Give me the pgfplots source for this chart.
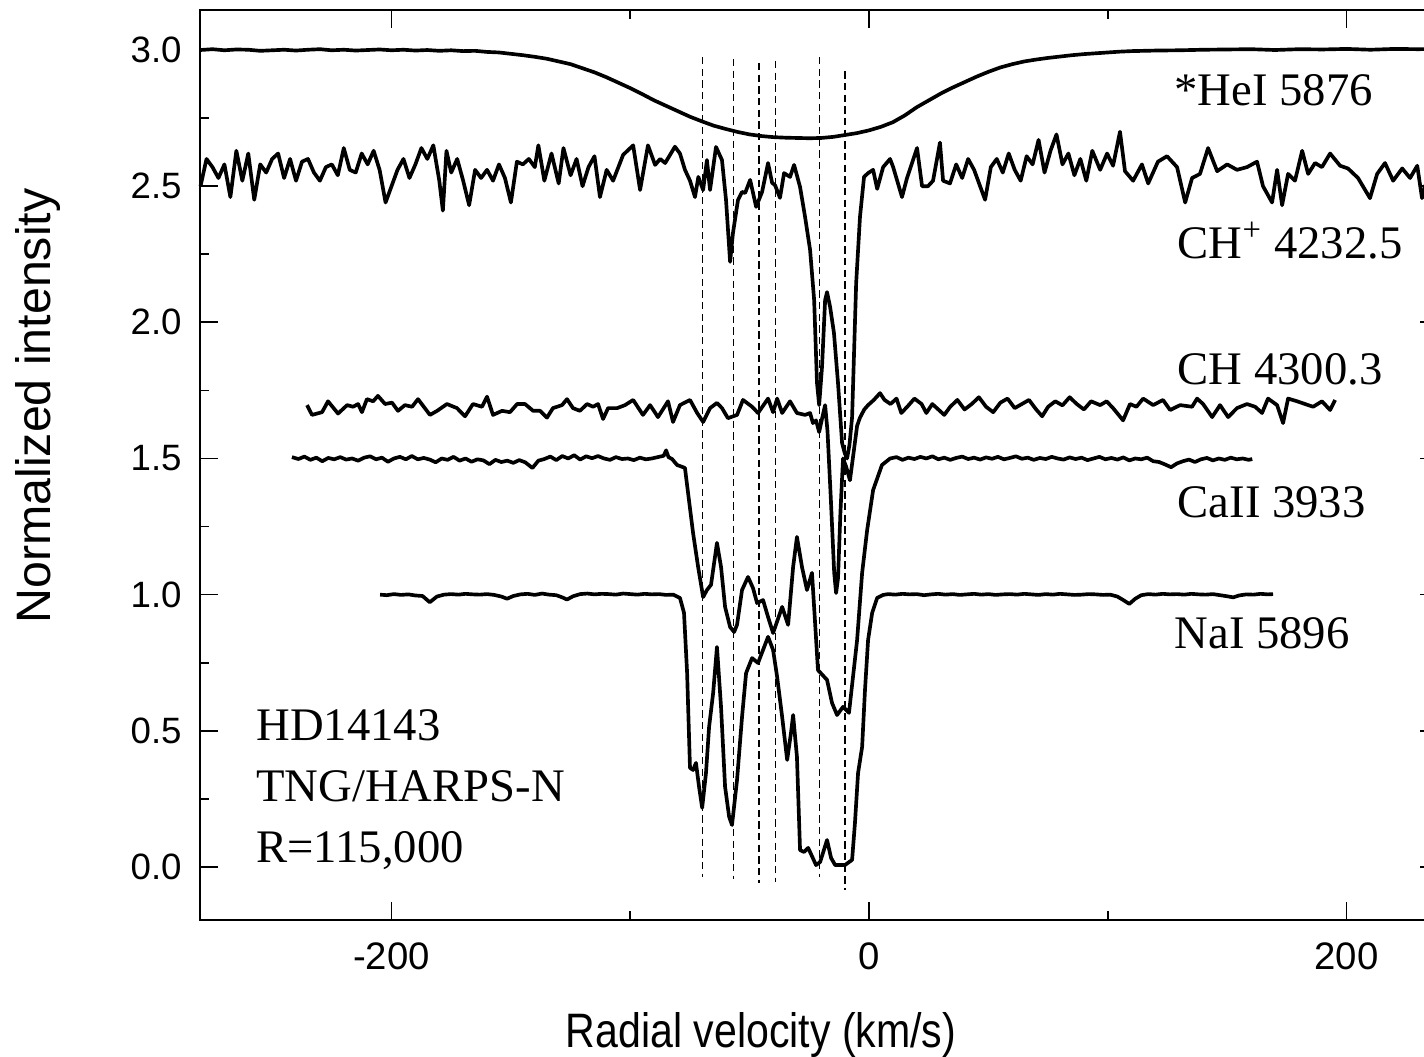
\documentclass[border=0pt]{standalone}
\usepackage{fontspec}
\setmainfont{Liberation Serif}
\setsansfont{Liberation Sans}
\usepackage{pgfplots}
\pgfplotsset{compat=1.18}
\begin{document}
\begin{tikzpicture}
\begin{axis}[
  scale only axis, width=371.4pt, height=273pt,
  xmin=-280.2, xmax=238.3, ymin=-0.1946, ymax=3.147,
  xtick={-200,0,200}, minor xtick={-100,100},
  ytick={0,0.5,1,1.5,2,2.5,3}, minor ytick={0.25,0.75,1.25,1.75,2.25,2.75},
  tick align=inside, major tick length=5.4pt, minor tick length=2.7pt,
  axis line style={line width=0.7pt},
  every tick/.style={black, line width=0.5pt},
  tick label style={font=\sffamily\fontsize{11}{13}\selectfont},
  xticklabel style={font=\sffamily\fontsize{11.5}{13}\selectfont, yshift=-3.4pt},
  yticklabel style={xshift=-2pt},
  /pgf/number format/assume math mode=true,
  yticklabel={\pgfmathprintnumber[fixed,fixed zerofill,precision=1]{\tick}},
  xticklabel={\pgfmathprintnumber[fixed]{\tick}},
  clip=false,
  spec/.style={black, solid, no markers, line width=1.1pt, line join=round},
  vline/.style={black, no markers, line width=0.45pt, dash pattern=on 2.2pt off 1.3pt},
]
% HeI 5876
\addplot[spec] coordinates {(-280,3.000) (-275,3.003) (-270,2.999) (-265,3.002) (-260,3.001) (-255,2.997) (-250,2.999) (-245,3.001) (-240,2.998) (-235,3.001) (-230,3.003) (-225,2.999) (-220,3.001) (-215,2.998) (-210,3.000) (-205,3.002) (-200,2.999) (-195,3.001) (-190,2.998) (-185,3.000) (-180,2.997) (-175,2.999) (-170,2.996) (-165,2.997) (-160,2.993) (-155,2.991) (-150,2.986) (-145,2.981) (-140,2.975) (-135,2.968) (-130,2.958) (-125,2.948) (-120,2.933) (-115,2.918) (-110,2.900) (-105,2.880) (-100,2.860) (-95,2.838) (-90,2.815) (-85,2.795) (-80,2.775) (-75,2.755) (-70,2.738) (-65,2.722) (-60,2.710) (-55,2.699) (-50,2.690) (-45,2.684) (-40,2.680) (-35,2.678) (-30,2.677) (-25,2.676) (-20,2.677) (-15,2.681) (-10,2.688) (-5,2.695) (0,2.705) (5,2.718) (10,2.735) (15,2.760) (20,2.790) (25,2.815) (30,2.840) (35,2.862) (40,2.882) (45,2.902) (50,2.920) (55,2.936) (60,2.948) (65,2.958) (70,2.965) (75,2.971) (80,2.976) (85,2.981) (90,2.985) (95,2.988) (100,2.991) (105,2.994) (110,2.996) (120,2.998) (130,2.999) (140,3.001) (150,3.002) (160,3.003) (170,3.000) (180,3.003) (190,3.002) (200,3.004) (210,3.001) (220,3.004) (230,3.003) (238.3,3.004)};
% CH+ 4232.5
\addplot[spec] coordinates {(-280,2.50) (-277.5,2.60) (-275,2.57) (-272.5,2.53) (-270,2.58) (-267.5,2.46) (-265,2.63) (-262.5,2.52) (-260,2.62) (-257.5,2.45) (-255,2.58) (-252.5,2.55) (-250,2.60) (-247.5,2.62) (-245,2.53) (-242.5,2.60) (-240,2.52) (-237.5,2.59) (-235,2.60) (-232.5,2.55) (-230,2.52) (-227.5,2.57) (-225,2.58) (-222.5,2.54) (-220,2.64) (-217.5,2.56) (-215,2.55) (-212.5,2.62) (-210,2.58) (-207.5,2.63) (-205,2.56) (-202.5,2.44) (-200,2.50) (-197.5,2.56) (-195,2.60) (-192.5,2.53) (-190,2.58) (-187.5,2.64) (-185,2.60) (-182.5,2.65) (-180,2.52) (-178.5,2.41) (-177,2.63) (-175,2.55) (-172.5,2.60) (-170,2.52) (-167.5,2.43) (-165,2.56) (-162.5,2.53) (-160,2.56) (-157.5,2.52) (-155,2.58) (-152.5,2.53) (-150,2.44) (-147.5,2.59) (-145,2.58) (-142.5,2.60) (-140,2.57) (-138.5,2.65) (-136,2.52) (-133,2.62) (-130,2.51) (-128,2.64) (-125,2.54) (-122.5,2.60) (-120,2.50) (-117.5,2.57) (-115,2.61) (-112.7,2.46) (-109.9,2.56) (-107.2,2.52) (-103,2.615) (-98.8,2.65) (-95.9,2.486) (-92.6,2.65) (-89.6,2.578) (-87.5,2.60) (-85.4,2.585) (-81.3,2.645) (-79.2,2.62) (-77.1,2.56) (-75.0,2.52) (-72.9,2.46) (-71.5,2.534) (-69.5,2.486) (-67.9,2.596) (-66.6,2.486) (-64.1,2.644) (-61.6,2.596) (-59.9,2.449) (-58.2,2.222) (-57.0,2.328) (-54.9,2.449) (-53.2,2.479) (-51.9,2.475) (-49.8,2.523) (-47.3,2.424) (-44.8,2.479) (-42.3,2.585) (-40.6,2.512) (-39.4,2.504) (-37.3,2.457) (-35.6,2.548) (-33.1,2.534) (-31.4,2.578) (-28.9,2.497) (-26.8,2.387) (-24.7,2.266) (-23.0,2.082) (-21.8,1.777) (-20.9,1.696) (-19.7,1.836) (-18.4,2.082) (-17.6,2.111) (-16.3,2.056) (-14.7,1.961) (-13.0,1.777) (-11.3,1.557) (-10.2,1.52) (-9.2,1.50) (-8.2,1.55) (-7.1,1.652) (-5.4,2.144) (-3.8,2.387) (-2.1,2.534) (-0.4,2.548) (1.7,2.56) (3.4,2.49) (5.9,2.57) (8.8,2.60) (10.1,2.57) (13.8,2.46) (15.9,2.53) (20.1,2.64) (22.2,2.50) (24.7,2.50) (26.8,2.52) (29.7,2.66) (31,2.52) (33.9,2.51) (36.5,2.58) (39,2.53) (41.5,2.60) (44,2.56) (46.5,2.50) (48.6,2.45) (51,2.57) (53.5,2.60) (56,2.55) (58.5,2.62) (61,2.56) (63.5,2.52) (66,2.61) (68.5,2.58) (71,2.67) (73.5,2.55) (76,2.63) (78.5,2.69) (81,2.58) (83.5,2.62) (86,2.54) (88.5,2.60) (91,2.52) (93.5,2.63) (96.8,2.56) (99.7,2.62) (102.2,2.575) (105.1,2.70) (107.2,2.555) (110.6,2.52) (114.3,2.58) (116.9,2.51) (121,2.59) (124.8,2.61) (129,2.57) (132.4,2.44) (135.3,2.53) (138.6,2.545) (142,2.64) (145.8,2.555) (150,2.58) (154.1,2.56) (158.3,2.57) (162.5,2.59) (165,2.50) (168.8,2.44) (170.9,2.56) (173,2.43) (175.5,2.545) (178.4,2.52) (181.4,2.63) (183.9,2.545) (186.8,2.585) (189.7,2.57) (193.1,2.62) (197.3,2.575) (200.6,2.565) (204.8,2.53) (209.8,2.456) (212.8,2.545) (216.1,2.585) (219.5,2.52) (223.3,2.565) (226.6,2.53) (229.6,2.575) (231.6,2.456) (234.5,2.55) (238.3,2.52)};
% CH 4300.3
\addplot[spec] coordinates {(-235.4,1.696) (-233.3,1.66) (-229.1,1.67) (-226.6,1.71) (-222.4,1.665) (-218.6,1.696) (-216.1,1.69) (-214,1.70) (-212.4,1.67) (-210.3,1.718) (-207.7,1.71) (-205.7,1.73) (-202.7,1.70) (-199.8,1.705) (-197.3,1.675) (-194.4,1.696) (-191.4,1.69) (-188.9,1.718) (-186.5,1.69) (-183.9,1.66) (-180.9,1.675) (-176.8,1.70) (-172.6,1.685) (-169.2,1.655) (-165.9,1.70) (-162.1,1.69) (-160,1.727) (-157.5,1.66) (-153.7,1.675) (-150.4,1.67) (-147.4,1.70) (-144.1,1.70) (-140.7,1.675) (-137.8,1.675) (-134.9,1.65) (-132.4,1.685) (-128.6,1.696) (-126.5,1.718) (-124,1.685) (-121.1,1.675) (-118.1,1.70) (-115.6,1.69) (-113.5,1.70) (-111.4,1.645) (-109.3,1.685) (-105.5,1.685) (-102.2,1.696) (-98.8,1.715) (-94.7,1.66) (-91.7,1.696) (-88.4,1.652) (-84.2,1.71) (-82.1,1.634) (-79.2,1.696) (-75.0,1.715) (-72.0,1.667) (-69.5,1.634) (-66.6,1.685) (-63.7,1.704) (-61.6,1.685) (-59.1,1.648) (-55.3,1.66) (-52.8,1.715) (-49,1.69) (-46.5,1.667) (-42.3,1.72) (-40.2,1.67) (-38.5,1.72) (-36.4,1.667) (-33.1,1.71) (-30.2,1.667) (-26.8,1.66) (-24.7,1.667) (-23.5,1.63) (-22.2,1.64) (-20.9,1.597) (-19.6,1.65) (-18.4,1.696) (-17.4,1.60) (-16.0,1.35) (-14.6,1.08) (-13.8,1.006) (-13.0,1.06) (-12.0,1.30) (-10.9,1.50) (-9.6,1.47) (-8.0,1.42) (-6.5,1.52) (-5.0,1.62) (-3.8,1.65) (-2.0,1.68) (-0.4,1.696) (2.0,1.715) (4.6,1.74) (6.5,1.715) (9,1.70) (11.5,1.72) (13.5,1.667) (16,1.69) (19,1.72) (22,1.70) (24,1.667) (26.5,1.70) (29,1.68) (31.5,1.66) (34,1.69) (37,1.715) (40,1.68) (43,1.70) (46,1.725) (49,1.69) (52,1.67) (55,1.705) (58,1.72) (61,1.685) (64,1.70) (67,1.715) (70,1.68) (72.5,1.655) (75,1.69) (78,1.71) (81,1.695) (84,1.725) (87,1.70) (90,1.68) (93,1.71) (96.8,1.696) (99.5,1.71) (102.2,1.685) (106.4,1.64) (109.3,1.70) (112,1.69) (114.8,1.72) (119,1.696) (123.1,1.715) (126.1,1.678) (130.3,1.696) (135.3,1.69) (137.4,1.72) (139.9,1.70) (143.7,1.652) (147,1.696) (150.4,1.652) (154.1,1.685) (158.3,1.70) (161.7,1.69) (164.6,1.667) (167.1,1.72) (170.9,1.696) (173.4,1.63) (175.5,1.72) (179.3,1.71) (182.6,1.70) (186,1.69) (189.7,1.71) (193.1,1.678) (195.2,1.715)};
% CaII 3933
\addplot[spec] coordinates {(-241.7,1.505) (-239,1.498) (-236.5,1.507) (-234,1.495) (-231.5,1.503) (-229,1.490) (-226.5,1.502) (-224,1.497) (-221.5,1.505) (-219,1.496) (-216.5,1.500) (-214,1.492) (-211.5,1.503) (-209,1.508) (-206.5,1.497) (-204,1.503) (-201.5,1.488) (-199,1.500) (-196.5,1.506) (-194,1.497) (-191.5,1.509) (-189,1.497) (-186.5,1.502) (-184,1.496) (-181.5,1.486) (-179,1.500) (-176.5,1.495) (-174,1.506) (-171.5,1.492) (-169,1.500) (-166.5,1.488) (-164,1.497) (-161.5,1.493) (-159,1.479) (-156.5,1.495) (-154,1.487) (-151.5,1.492) (-149,1.484) (-146.5,1.494) (-144,1.486) (-141,1.465) (-138.5,1.492) (-136,1.498) (-133.5,1.507) (-131,1.494) (-128.5,1.509) (-126,1.500) (-123.5,1.512) (-121,1.496) (-118.5,1.508) (-116,1.501) (-113.5,1.509) (-111,1.500) (-108.5,1.495) (-106,1.505) (-103.5,1.498) (-101,1.500) (-98.5,1.494) (-96,1.503) (-93.5,1.497) (-91,1.500) (-88.5,1.505) (-86,1.510) (-85,1.530) (-84,1.505) (-82.5,1.498) (-80.4,1.476) (-78.5,1.470) (-77.1,1.465) (-75.8,1.373) (-73.7,1.226) (-71.6,1.102) (-69.5,0.991) (-67.9,1.017) (-66.2,1.036) (-64.9,1.116) (-63.7,1.19) (-62.0,1.102) (-60.3,0.955) (-58.2,0.881) (-56.5,0.863) (-55.3,0.889) (-53.2,1.017) (-50.7,1.065) (-48.6,1.024) (-46.9,0.969) (-44.4,0.980) (-42.3,0.918) (-40.2,0.859) (-36.4,0.955) (-33.9,0.889) (-31.8,1.102) (-30.2,1.212) (-28.1,1.102) (-26.0,1.017) (-23.9,1.080) (-22.6,0.896) (-21.4,0.723) (-17.6,0.687) (-15.5,0.602) (-13.4,0.558) (-10.9,0.588) (-8.4,0.566) (-5.0,0.834) (-2.9,1.08) (-0.8,1.237) (1.7,1.384) (5.4,1.476) (8.8,1.50) (11.5,1.505) (14,1.495) (16.5,1.503) (19,1.498) (21.5,1.506) (24,1.500) (26.5,1.508) (29,1.497) (31.5,1.503) (34,1.495) (36.5,1.502) (39,1.507) (41.5,1.498) (44,1.503) (46.5,1.496) (49,1.504) (51.5,1.499) (54,1.506) (56.5,1.497) (59,1.502) (61.5,1.508) (64,1.499) (66.5,1.503) (69,1.495) (71.5,1.502) (74,1.498) (76.5,1.506) (79,1.500) (81.5,1.496) (84,1.504) (86.5,1.498) (89,1.503) (91.5,1.494) (94,1.500) (96.5,1.506) (99,1.497) (101.5,1.502) (104,1.496) (106.5,1.504) (109,1.493) (111.5,1.500) (114,1.497) (116.5,1.503) (119,1.490) (121.5,1.487) (124,1.478) (126.5,1.468) (129,1.482) (131.5,1.490) (134,1.496) (136.5,1.487) (139,1.497) (141.5,1.502) (144,1.493) (146.5,1.500) (149,1.495) (151.5,1.503) (154,1.497) (156.5,1.500) (159,1.495) (160.5,1.498)};
% NaI 5896
\addplot[spec] coordinates {(-204.8,1.000) (-202,0.998) (-199,1.002) (-196,0.999) (-193,1.001) (-190,0.997) (-187,0.995) (-184,0.972) (-181,0.993) (-178,1.000) (-175,1.002) (-172,1.000) (-169,1.003) (-166,1.001) (-163,1.000) (-160,1.002) (-157,0.999) (-154,0.993) (-151.6,0.985) (-149,0.995) (-146,1.001) (-143,1.003) (-140,0.999) (-137,1.004) (-134,1.000) (-131,0.998) (-128.5,0.990) (-126.5,0.982) (-124,0.994) (-121,1.002) (-118,1.004) (-115,1.001) (-112,1.003) (-109,1.002) (-106,1.000) (-103,1.004) (-100,1.002) (-97,1.000) (-94,1.003) (-91,1.001) (-88,1.002) (-85,0.999) (-82,1.000) (-79.2,0.988) (-77.5,0.933) (-76.2,0.712) (-75.0,0.364) (-73.7,0.356) (-72.5,0.382) (-71.2,0.294) (-69.9,0.217) (-68.3,0.345) (-67.0,0.514) (-65.3,0.639) (-63.7,0.808) (-62.0,0.588) (-60.3,0.294) (-58.6,0.184) (-57.4,0.154) (-55.3,0.319) (-53.2,0.551) (-51.5,0.712) (-49.0,0.767) (-46.5,0.749) (-44.4,0.797) (-42.3,0.845) (-40.2,0.797) (-38.5,0.698) (-36.4,0.551) (-34.3,0.393) (-32.7,0.492) (-31.8,0.558) (-30.2,0.404) (-28.9,0.062) (-27.2,0.055) (-25.5,0.070) (-22.2,0.007) (-20.5,0.018) (-17.6,0.099) (-15.9,0.033) (-14.2,0.007) (-10.1,0.007) (-7.1,0.026) (-5.9,0.162) (-4.6,0.345) (-2.9,0.441) (-1.7,0.650) (-0.4,0.834) (1.3,0.933) (3.4,0.988) (5.9,0.999) (8,1.002) (11,1.000) (14,1.003) (17,1.001) (20,1.002) (23,0.998) (26,1.001) (29,1.003) (32,1.000) (35,1.002) (38,0.999) (41,1.001) (44,1.003) (47,1.000) (50,1.002) (53,0.999) (56,1.001) (59,1.002) (62,1.000) (65,1.003) (68,1.001) (71,0.999) (74,1.002) (77,1.000) (80,1.003) (83,1.001) (86,0.999) (89,1.000) (92,1.002) (95,1.001) (98,0.999) (101,1.000) (104,0.993) (106.5,0.980) (109,0.966) (111.5,0.985) (114,0.998) (117,1.002) (120,1.000) (123,1.003) (126,1.001) (129,1.002) (132,1.000) (135,1.003) (138,1.001) (141,1.000) (144,1.002) (147,0.998) (150,0.994) (152.5,0.990) (155,0.997) (158,1.001) (161,1.000) (164,1.003) (167,1.001) (169.2,1.002)};
% dashed velocity markers
\addplot[vline] coordinates {(-69.7,2.974) (-69.7,-0.037)};
\addplot[vline] coordinates {(-56.8,2.967) (-56.8,-0.044)};
\addplot[vline] coordinates {(-46.1,2.952) (-46.1,-0.059)};
\addplot[vline] coordinates {(-39.2,2.960) (-39.2,-0.055)};
\addplot[vline] coordinates {(-20.7,2.974) (-20.7,-0.037)};
\addplot[vline] coordinates {(-10.1,2.922) (-10.1,-0.084)};
% texts
\node[anchor=base west, inner sep=0pt, font=\fontsize{14}{16}\selectfont] at (axis cs:127.7,2.798) {*HeI 5876};
\node[anchor=base west, inner sep=0pt, font=\fontsize{14}{16}\selectfont] at (axis cs:129,2.236) {CH\textsuperscript{+} 4232.5};
\node[anchor=base west, inner sep=0pt, font=\fontsize{14}{16}\selectfont] at (axis cs:129,1.770) {CH 4300.3};
\node[anchor=base west, inner sep=0pt, font=\fontsize{14}{16}\selectfont] at (axis cs:129,1.285) {CaII 3933};
\node[anchor=base west, inner sep=0pt, font=\fontsize{14}{16}\selectfont] at (axis cs:127.7,0.804) {NaI 5896};
\node[anchor=base west, inner sep=0pt, font=\fontsize{14}{16}\selectfont] at (axis cs:-256.9,0.466) {HD14143};
\node[anchor=base west, inner sep=0pt, font=\fontsize{14}{16}\selectfont] at (axis cs:-256.9,0.239) {TNG/HARPS-N};
\node[anchor=base west, inner sep=0pt, font=\fontsize{14}{16}\selectfont] at (axis cs:-256.9,0.015) {R=115,000};
\node[anchor=base, inner sep=0pt, font=\sffamily\fontsize{14.5}{16}\selectfont] at (rel axis cs:0.4532,-0.1407) {\scalebox{0.85}[1]{Radial velocity (km/s)}};
\node[anchor=base, rotate=90, inner sep=0pt, font=\sffamily\fontsize{14.5}{16}\selectfont] at (rel axis cs:-0.1212,0.5648) {Normalized intensity};
\coordinate (bbsw) at (rel axis cs:-0.1616,-0.15055);
\coordinate (bbne) at (rel axis cs:0.98869,1.01099);
\end{axis}
\pgfresetboundingbox
\path[use as bounding box] (bbsw) rectangle (bbne);
\end{tikzpicture}
\end{document}
